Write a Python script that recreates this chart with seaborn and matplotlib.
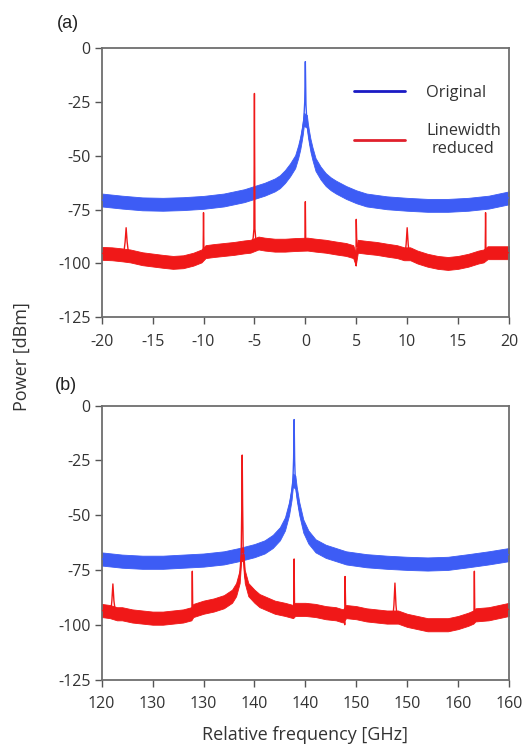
import numpy as np
import pandas as pd
import seaborn as sns
import matplotlib
matplotlib.use("Agg")
import matplotlib.pyplot as plt
from matplotlib.lines import Line2D

# ---------------- data ----------------
# Panel (a): relative frequency -20..20 GHz
a_blue_floor_x = [-20, -18, -16, -14, -12, -10, -8, -6, -5, -4, -3, -2.5, -2, -1.5, -1, -0.7, -0.5, -0.35, -0.25, -0.15,
                  0.15, 0.25, 0.35, 0.5, 0.7, 1, 1.5, 2, 2.5, 3, 4, 5, 6, 8, 10, 12, 14, 16, 18, 20]
a_blue_floor_y = [-70.5, -71.5, -72.3, -72.5, -72.2, -71.6, -70.5, -68.5, -67, -65.5, -63.5, -62, -59.6, -56.5, -52.7, -48, -44, -40, -37, -33,
                  -34, -38, -41, -45, -49, -54, -58, -61, -63, -64.5, -67, -69, -70.5, -71.8, -72.5, -73, -73, -72.5, -71.5, -69.5]
a_blue_peak_x = [-0.06, 0.0, 0.06]
a_blue_peak_y = [-25, -6.2, -26]

a_red_floor_x = [-20, -19, -18, -17.2, -16, -15, -14, -13, -12, -11, -10.2, -9.8, -9, -8, -7, -6, -5.4, -4.6, -4, -3, -2, -1,
                 0.2, 1, 2, 3, 4, 4.7, 4.95, 5.15, 6, 7, 8, 9, 9.7, 10.3, 11, 12, 13, 14, 15, 16, 17, 17.5, 17.9, 19, 20]
a_red_floor_y = [-95.3, -95.5, -96, -96.5, -97.8, -98.4, -99, -99.5, -99.2, -98, -96.5, -94.5, -94, -93.5, -93, -92.3, -92, -90.5, -91, -91.5, -91.5, -91.2,
                 -91, -91.5, -92, -92.8, -93.5, -94.5, -98, -92, -92.5, -93, -93.8, -94.5, -95.5, -95.5, -97, -98.5, -99.5, -100, -99.5, -98.5, -97, -96.5, -95, -95, -95]
a_red_peak_x = [-17.85, -17.7, -17.6, -17.5, -17.35,
                -10.04, -10.0, -9.96,
                -5.3, -5.12, -5.05, -5.0, -4.95, -4.88, -4.7,
                -0.04, 0.0, 0.04,
                4.9, 4.97, 5.0, 5.04, 5.1,
                9.8, 9.9, 10.0, 10.1, 10.2,
                17.66, 17.7, 17.74]
a_red_peak_y = [-96, -90, -83.4, -90, -96,
                -96.5, -76.4, -94.5,
                -92, -88, -84, -21, -84, -88, -91,
                -91.2, -71.3, -91,
                -96.5, -101, -79.5, -88, -92,
                -95.5, -91, -83.4, -91, -95.5,
                -96.5, -76.4, -95.5]

# Panel (b): 120..160 GHz
b_blue_floor_x = [120, 122, 124, 126, 128, 130, 132, 133.5, 135, 136, 136.8, 137.5, 138.0, 138.4, 138.65, 138.78,
                  139.02, 139.15, 139.4, 139.8, 140.3, 141, 142, 143, 144, 146, 148, 150, 152, 154, 156, 158, 160]
b_blue_floor_y = [-70, -71, -71.5, -71.5, -71, -70.5, -69.5, -68, -66.2, -64.5, -62, -58.5, -54, -47, -40, -34,
                  -35, -40, -47, -55, -60, -64, -66.5, -68, -69.5, -70.8, -71.5, -72, -72.3, -72, -70.8, -69.5, -68]
b_blue_peak_x = [138.85, 138.9, 138.95]
b_blue_peak_y = [-24, -6.4, -25]

b_red_floor_x = [120, 120.8, 121.5, 122, 123, 124, 125, 126, 127, 128, 128.8, 129.0, 130, 131, 132, 132.8, 133.2, 133.55, 133.7,
                 133.9, 134.05, 134.4, 135, 135.5, 136, 137, 138, 138.8, 139.0, 140, 141, 142, 143, 143.7, 144.0, 145, 146, 147, 148,
                 148.5, 149.1, 150, 151, 152, 153, 154, 155, 156, 156.5, 156.7, 158, 159, 160]
b_red_floor_y = [-93.5, -94, -95, -95, -96, -96.5, -97, -97, -96.5, -96, -95, -93.5, -92, -91, -89.5, -87, -84, -78, -68,
                 -68, -78, -84, -87, -89, -90, -92, -93, -94, -93, -93, -93.5, -94.5, -95, -96, -94, -94.5, -95.5, -96, -96.5,
                 -96.5, -96.5, -98, -99, -100, -100, -100, -99, -97.5, -96.5, -95.5, -95, -94, -93]
b_red_peak_x = [120.9, 121.0, 121.1, 121.2, 121.35,
                128.86, 128.9, 128.94,
                133.76, 133.8, 133.84,
                138.86, 138.9, 138.94,
                143.8, 143.87, 143.9, 143.95, 143.97,
                148.6, 148.7, 148.8, 148.9, 149.0,
                156.56, 156.6, 156.64]
b_red_peak_y = [-94, -89, -81.4, -89, -94.5,
                -95, -75.6, -93.5,
                -45, -22.6, -45,
                -94, -70, -93,
                -96.5, -100, -78, -90, -93,
                -96.5, -91, -81, -91, -96,
                -96, -75.6, -95.5]

a_xticks = [-20, -15, -10, -5, 0, 5, 10, 15, 20]
a_xticklabels = ["-20", "-15", "-10", "-5", "0", "5", "10", "15", "20"]
b_xticks = [120, 125, 130, 135, 140, 145, 150, 155, 160]
b_xticklabels = ["120", "130", "130", "140", "140", "150", "150", "160", "160"]
yticks = [0, -25, -50, -75, -100, -125]
yticklabels = ["0", "-25", "-50", "-75", "-100", "-125"]

series_names = ["Original", "Linewidth\nreduced"]

# ---------------- style ----------------
BLUE = "#3d5cf5"
RED = "#f01818"
LEG_BLUE = "#1a1ac4"
LEG_RED = "#e0202c"
NOISE = 3.0
TXT = "#333333"

sns.set_style("white")
plt.rcParams["font.family"] = ["Open Sans", "DejaVu Sans"]

fig = plt.figure(figsize=(5.25, 7.46), dpi=100)
ax_a = fig.add_axes([0.1937, 0.5747, 0.7758, 0.3606])
ax_b = fig.add_axes([0.1937, 0.0891, 0.7758, 0.3673])


def draw_series(ax, fx, fy, px, py, color):
    fx = np.asarray(fx, float)
    fy = np.asarray(fy, float)
    ax.fill_between(fx, fy - NOISE, fy + NOISE, color=color, linewidth=0.6, edgecolor=color, zorder=2)
    df = pd.DataFrame({"f": np.concatenate([fx, px]), "p": np.concatenate([fy, py])}).sort_values("f", kind="stable")
    sns.lineplot(data=df, x="f", y="p", ax=ax, color=color, linewidth=1.0, estimator=None, sort=False, zorder=3)


draw_series(ax_a, a_blue_floor_x, a_blue_floor_y, a_blue_peak_x, a_blue_peak_y, BLUE)
draw_series(ax_a, a_red_floor_x, a_red_floor_y, a_red_peak_x, a_red_peak_y, RED)
draw_series(ax_b, b_blue_floor_x, b_blue_floor_y, b_blue_peak_x, b_blue_peak_y, BLUE)
draw_series(ax_b, b_red_floor_x, b_red_floor_y, b_red_peak_x, b_red_peak_y, RED)

for ax, xt, xtl in [(ax_a, a_xticks, a_xticklabels), (ax_b, b_xticks, b_xticklabels)]:
    ax.set_xlim(xt[0], xt[-1])
    ax.set_ylim(-125, 0)
    ax.set_xticks(xt)
    ax.set_xticklabels(xtl)
    ax.set_yticks(yticks)
    ax.set_yticklabels(yticklabels)
    ax.set_xlabel("")
    ax.set_ylabel("")
    for s in ax.spines.values():
        s.set_color("#6e6e6e")
        s.set_linewidth(1.3)
    ax.tick_params(axis="both", direction="out", length=5, width=1.0, color="#555555",
                   labelsize=11.5, labelcolor=TXT, left=True, bottom=True)
    ax.tick_params(axis="x", pad=7)
    ax.tick_params(axis="y", pad=3)

handles = [Line2D([], [], color=LEG_BLUE, lw=2.0), Line2D([], [], color=LEG_RED, lw=2.0)]
leg = ax_a.legend(handles, series_names, loc="upper right", bbox_to_anchor=(1.0, 0.895), frameon=False,
                  fontsize=11.8, handlelength=3.1, handletextpad=1.3, labelspacing=1.35, borderpad=0)
for t in leg.get_texts():
    t.set_multialignment("center")
    t.set_color(TXT)

fig.text(68 / 525, 1 - 24 / 746, "(a)", fontsize=13, ha="center", va="center", family="Liberation Sans", color="#222222")
fig.text(66 / 525, 1 - 385 / 746, "(b)", fontsize=13, ha="center", va="center", family="Liberation Sans", color="#222222")
fig.text(22 / 525, 1 - 357 / 746, "Power [dBm]", rotation=90, fontsize=13, ha="center", va="center", color=TXT)
fig.text(305 / 525, 1 - 735 / 746, "Relative frequency [GHz]", fontsize=13, ha="center", va="center", color=TXT)

fig.savefig("out.png", dpi=100, facecolor="white")
